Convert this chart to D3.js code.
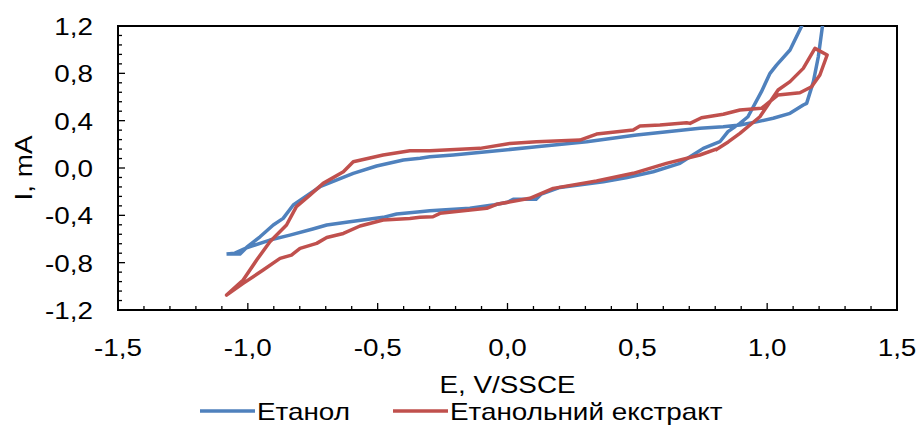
<!DOCTYPE html>
<html>
<head>
<meta charset="utf-8">
<script src="https://cdn.jsdelivr.net/npm/d3@7"></script>
<style>
body { margin: 0; background: #fff; }
text { font-family: "Liberation Sans", Arial, sans-serif; fill: #000; font-size: 24px; }
</style>
</head>
<body>
<div id="chart"></div>
<script>
// CV curves, E (V vs SSCE) and I (mA)
var etanolE = [-1.082, -1.05, -1.005, -0.915, -0.838, -0.75, -0.696, -0.607, -0.479, -0.427, -0.337, -0.299, -0.145, -0.05, 0.0, 0.022, 0.11, 0.13, 0.202, 0.369, 0.461, 0.561, 0.664, 0.703, 0.754, 0.818, 0.849, 0.895, 0.926, 0.978, 1.011, 1.036, 1.088, 1.133, 1.17, 1.213, 1.197, 1.178, 1.152, 1.139, 1.088, 1.023, 0.959, 0.895, 0.831, 0.741, 0.497, 0.305, 0.112, -0.08, -0.209, -0.299, -0.337, -0.401, -0.504, -0.594, -0.722, -0.825, -0.864, -0.902, -0.953, -1.005, -1.03, -1.082];
var etanolI = [-0.727, -0.72, -0.675, -0.609, -0.567, -0.515, -0.482, -0.454, -0.417, -0.389, -0.37, -0.361, -0.341, -0.31, -0.29, -0.265, -0.265, -0.22, -0.164, -0.116, -0.08, -0.032, 0.039, 0.095, 0.166, 0.222, 0.307, 0.377, 0.433, 0.645, 0.80, 0.87, 0.997, 1.2, 1.45, 1.2, 0.94, 0.73, 0.546, 0.532, 0.462, 0.42, 0.39, 0.363, 0.349, 0.335, 0.279, 0.222, 0.18, 0.137, 0.11, 0.095, 0.082, 0.067, 0.017, -0.045, -0.158, -0.313, -0.426, -0.482, -0.581, -0.671, -0.727, -0.727];

var ekstraktE = [0.80, 0.85, 0.895, 0.972, 1.042, 1.088, 1.139, 1.184, 1.231, 1.203, 1.171, 1.126, 1.042, 0.978, 0.895, 0.831, 0.747, 0.703, 0.69, 0.587, 0.51, 0.484, 0.343, 0.279, 0.112, 0.009, -0.106, -0.299, -0.376, -0.479, -0.594, -0.632, -0.71, -0.761, -0.813, -0.851, -0.915, -0.966, -1.018, -1.082, -1.018, -0.941, -0.876, -0.832, -0.799, -0.735, -0.696, -0.632, -0.568, -0.479, -0.376, -0.337, -0.287, -0.26, -0.08, -0.042, 0.086, 0.176, 0.343, 0.484, 0.612, 0.741, 0.812];
var ekstraktI = [0.15, 0.22, 0.293, 0.433, 0.659, 0.73, 0.842, 1.011, 0.955, 0.786, 0.687, 0.636, 0.617, 0.504, 0.49, 0.454, 0.425, 0.377, 0.383, 0.363, 0.355, 0.321, 0.287, 0.236, 0.222, 0.208, 0.166, 0.146, 0.146, 0.11, 0.053, -0.032, -0.13, -0.229, -0.327, -0.482, -0.623, -0.778, -0.947, -1.074, -0.975, -0.862, -0.764, -0.736, -0.679, -0.637, -0.587, -0.553, -0.49, -0.44, -0.426, -0.417, -0.412, -0.383, -0.341, -0.307, -0.256, -0.172, -0.11, -0.045, 0.039, 0.11, 0.166];

var seriesNames = ["Етанол", "Етанольний екстракт"];
var seriesColors = ["#4F81BD", "#C0504D"];

var xTicks = [-1.5, -1.0, -0.5, 0.0, 0.5, 1.0, 1.5];
var yTicks = [-1.2, -0.8, -0.4, 0.0, 0.4, 0.8, 1.2];

var w = 919, h = 430;
var plotL = 118, plotR = 897, plotT = 26, plotB = 310;
var stretch = 1.16; // the original text is a bit wider than plain Arial

var svg = d3.select("#chart").append("svg")
  .attr("width", w)
  .attr("height", h);

var x = d3.scaleLinear().domain([-1.5, 1.5]).range([plotL, plotR]);
var y = d3.scaleLinear().domain([-1.2, 1.2]).range([plotB, plotT]);

var fmt = function(d) { return d3.format(".1f")(d).replace(".", ",").replace("−", "-"); };

function place(px, py, rot) {
  return "translate(" + px + "," + py + ")" + (rot ? " rotate(" + rot + ")" : "") + " scale(" + stretch + ",1)";
}

svg.append("clipPath").attr("id", "clip")
  .append("rect")
  .attr("x", plotL).attr("y", plotT)
  .attr("width", plotR - plotL).attr("height", plotB - plotT);

// minor + major ticks, pointing inwards
var xMinor = d3.range(-1.5, 1.5001, 0.1);
var yMinor = d3.range(-1.2, 1.2001, 0.08);

svg.append("g").selectAll("line")
  .data(xMinor)
  .enter().append("line")
  .attr("x1", function(d) { return x(d); })
  .attr("x2", function(d) { return x(d); })
  .attr("y1", plotB)
  .attr("y2", function(d) { return Math.abs(d * 2 - Math.round(d * 2)) < 1e-6 ? plotB - 7 : plotB - 4; })
  .attr("stroke", "#000").attr("stroke-width", 1.3);

svg.append("g").selectAll("line")
  .data(yMinor)
  .enter().append("line")
  .attr("y1", function(d) { return y(d); })
  .attr("y2", function(d) { return y(d); })
  .attr("x1", plotL)
  .attr("x2", function(d) { return Math.abs(d / 0.4 - Math.round(d / 0.4)) < 1e-6 ? plotL + 7 : plotL + 4; })
  .attr("stroke", "#000").attr("stroke-width", 1.3);

// frame
svg.append("rect")
  .attr("x", plotL).attr("y", plotT)
  .attr("width", plotR - plotL).attr("height", plotB - plotT)
  .attr("fill", "none").attr("stroke", "#000").attr("stroke-width", 2);

// tick labels
svg.append("g").selectAll("text")
  .data(xTicks)
  .enter().append("text")
  .attr("transform", function(d) { return place(x(d), 356); })
  .attr("text-anchor", "middle")
  .text(fmt);

svg.append("g").selectAll("text")
  .data(yTicks)
  .enter().append("text")
  .attr("transform", function(d) { return place(93, y(d) + 9); })
  .attr("text-anchor", "end")
  .text(fmt);

// axis titles
svg.append("text")
  .attr("transform", place((plotL + plotR) / 2, 393))
  .attr("text-anchor", "middle")
  .text("E, V/SSCE");

svg.append("text")
  .attr("transform", place(32, (plotT + plotB) / 2, -90))
  .attr("text-anchor", "middle")
  .text("I, mA");

// curves
var line = d3.line()
  .x(function(d) { return x(d[0]); })
  .y(function(d) { return y(d[1]); });

var curves = [
  d3.zip(etanolE, etanolI),
  d3.zip(ekstraktE, ekstraktI)
];

svg.append("g").attr("clip-path", "url(#clip)")
  .selectAll("path")
  .data(curves)
  .enter().append("path")
  .attr("d", line)
  .attr("fill", "none")
  .attr("stroke", function(d, i) { return seriesColors[i]; })
  .attr("stroke-width", 3.5)
  .attr("stroke-linejoin", "round");

// legend
var legendX = [200, 393];
var lg = svg.append("g").selectAll("g")
  .data(seriesNames)
  .enter().append("g")
  .attr("transform", function(d, i) { return "translate(" + legendX[i] + ",411)"; });

lg.append("line")
  .attr("x1", 0).attr("x2", 55)
  .attr("stroke", function(d, i) { return seriesColors[i]; })
  .attr("stroke-width", 3.5);

lg.append("text")
  .attr("transform", place(57, 9))
  .text(function(d) { return d; });
</script>
</body>
</html>
